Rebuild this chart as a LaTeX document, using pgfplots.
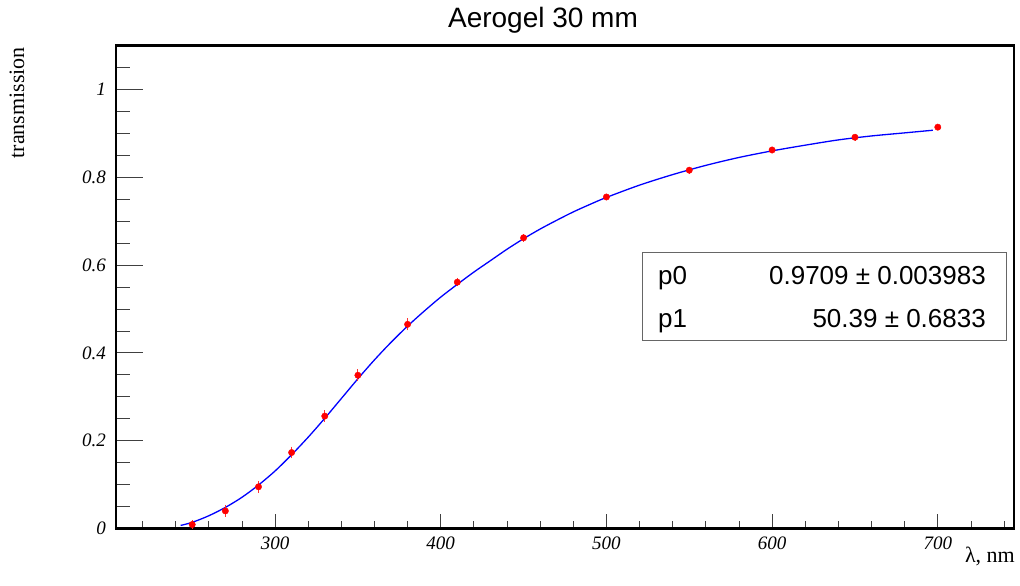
\documentclass[border=0pt]{standalone}
\usepackage{fontspec}
\setmainfont{Liberation Serif}
\newfontfamily\helv{Liberation Sans}
\usepackage{pgfplots}
\pgfplotsset{compat=1.18}
\begin{document}
\begin{tikzpicture}[x=1pt,y=1pt]
\useasboundingbox (0,0) rectangle (1020,586);
\begin{axis}[
  at={(116pt,57.5pt)}, anchor=south west,
  width=898pt, height=483pt, scale only axis,
  xmin=204, xmax=746, ymin=0, ymax=1.1,
  axis line style={line width=2.4pt},
  tick pos=left, tick align=inside,
  xtick={300,400,500,600,700},
  minor xtick={220,240,260,280,320,340,360,380,420,440,460,480,520,540,560,580,620,640,660,680,720,740},
  ytick={0,0.2,0.4,0.6,0.8,1},
  minor ytick={0.05,0.1,0.15,0.25,0.3,0.35,0.45,0.5,0.55,0.65,0.7,0.75,0.85,0.9,0.95,1.05},
  xtick style={/pgfplots/major tick length=14pt,/pgfplots/minor tick length=7pt, black!75, line width=0.8pt},
  ytick style={/pgfplots/major tick length=27pt,/pgfplots/minor tick length=13.5pt, black!75, line width=0.8pt},
  /pgf/number format/assume math mode=true,
  tick label style={font=\fontsize{19}{19}\selectfont\itshape},
  xticklabel style={inner sep=0pt, yshift=-8.5pt},
  yticklabel style={inner sep=0pt, xshift=-10pt},
]
\addplot[blue, line width=1.3pt, smooth] coordinates {
(243,0.007) (250,0.014) (260,0.029) (270,0.048) (280,0.071) (290,0.099)
(300,0.131) (310,0.168) (320,0.208) (330,0.251) (340,0.296) (350,0.341)
(360,0.384) (370,0.424) (380,0.461) (390,0.495) (400,0.527) (410,0.556)
(420,0.584) (430,0.610) (440,0.636) (450,0.660) (460,0.682) (470,0.702)
(480,0.721) (490,0.738) (500,0.754) (520,0.782) (540,0.806) (560,0.827)
(580,0.845) (600,0.860) (620,0.873) (640,0.885) (660,0.894) (680,0.901)
(697,0.907)
};
\addplot[only marks, mark=*, mark size=3.2pt, color=red,
  error bars/.cd, y dir=both, y explicit,
  error bar style={red!80, line width=0.9pt},
  error mark options={red!80, line width=0.9pt, mark size=2pt}]
coordinates {
(250,0.009) +- (0,0.006)
(270,0.040) +- (0,0.009)
(290,0.095) +- (0,0.009)
(310,0.173) +- (0,0.009)
(330,0.256) +- (0,0.009)
(350,0.349) +- (0,0.009)
(380,0.465) +- (0,0.009)
(410,0.561) +- (0,0.005)
(450,0.662) +- (0,0.004)
(500,0.755) +- (0,0.003)
(550,0.816) +- (0,0.003)
(600,0.862) +- (0,0.003)
(650,0.891) +- (0,0.003)
(700,0.914) +- (0,0.003)
};
\end{axis}
\node[anchor=base, font=\helv\fontsize{28}{28}\selectfont] at (543,558) {Aerogel 30 mm};
\node[rotate=90, anchor=base east, inner sep=0pt, font=\fontsize{22}{22}\selectfont] at (24,539) {transmission};
\node[anchor=base east, inner sep=0pt, font=\fontsize{22}{22}\selectfont] at (1015,23) {λ, nm};
\draw[black!60, line width=1pt, fill=white] (642.5,245) rectangle (1006,333);
\node[anchor=base west, inner sep=0pt, font=\helv\fontsize{26}{26}\selectfont] at (658,301) {p0};
\node[anchor=base east, inner sep=0pt, font=\helv\fontsize{26}{26}\selectfont] at (986,301) {0.9709 ± 0.003983};
\node[anchor=base west, inner sep=0pt, font=\helv\fontsize{26}{26}\selectfont] at (658,258) {p1};
\node[anchor=base east, inner sep=0pt, font=\helv\fontsize{26}{26}\selectfont] at (986,258) {50.39 ± 0.6833};
\end{tikzpicture}
\end{document}
